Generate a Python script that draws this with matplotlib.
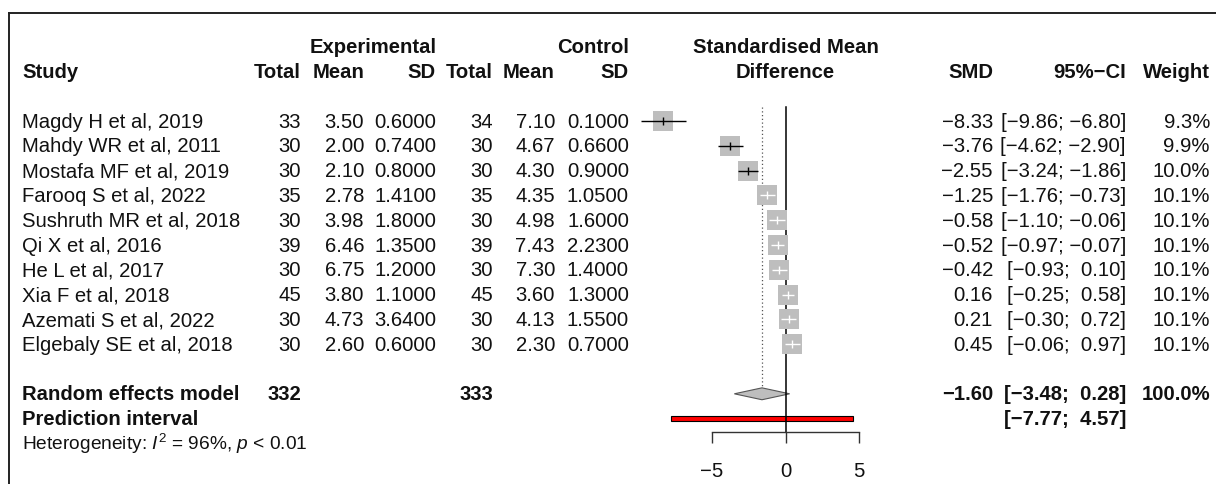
import numpy as np
import matplotlib
matplotlib.use("Agg")
import matplotlib.pyplot as plt
from matplotlib import transforms
from matplotlib.lines import Line2D

# ---- data ----
studies = ["Magdy H et al, 2019", "Mahdy WR et al, 2011", "Mostafa MF et al, 2019",
           "Farooq S et al, 2022", "Sushruth MR et al, 2018", "Qi X et al, 2016",
           "He L et al, 2017", "Xia F et al, 2018", "Azemati S et al, 2022",
           "Elgebaly SE et al, 2018"]
exp_n = [33, 30, 30, 35, 30, 39, 30, 45, 30, 30]
exp_mean = [3.50, 2.00, 2.10, 2.78, 3.98, 6.46, 6.75, 3.80, 4.73, 2.60]
exp_sd = [0.60, 0.74, 0.80, 1.41, 1.80, 1.35, 1.20, 1.10, 3.64, 0.60]
ctl_n = [34, 30, 30, 35, 30, 39, 30, 45, 30, 30]
ctl_mean = [7.10, 4.67, 4.30, 4.35, 4.98, 7.43, 7.30, 3.60, 4.13, 2.30]
ctl_sd = [0.10, 0.66, 0.90, 1.05, 1.60, 2.23, 1.40, 1.30, 1.55, 0.70]
smd = [-8.33, -3.76, -2.55, -1.25, -0.58, -0.52, -0.42, 0.16, 0.21, 0.45]
ci_lo = [-9.86, -4.62, -3.24, -1.76, -1.10, -0.97, -0.93, -0.25, -0.30, -0.06]
ci_hi = [-6.80, -2.90, -1.86, -0.73, -0.06, -0.07, 0.10, 0.58, 0.72, 0.97]
weight = [9.3, 9.9, 10.0, 10.1, 10.1, 10.1, 10.1, 10.1, 10.1, 10.1]

re_est, re_lo, re_hi = -1.60, -3.48, 0.28
pi_lo, pi_hi = -7.77, 4.57
x_ticks = [-5, 0, 5]
het_text = r"Heterogeneity: $I^2$ = 96%, $p$ < 0.01"

# ---- layout (pixels of the 1216x484 canvas) ----
W, H = 1216, 484
FS = 14.6
X0_PX, PX_PER_UNIT = 785.5, 14.7      # x pixel of SMD 0, pixels per SMD unit
ROW0_PX, ROW_PX = 121.0, 24.8         # y pixel of first study row, row spacing
XMIN, XMAX = -10.5, 6.0
AX_TOP, AX_BOT = 100, 432
BOX_PX = 20.0
BASE = 0.27                           # baseline offset of text below row centre

plt.rcParams["font.family"] = ["Liberation Sans", "DejaVu Sans"]
plt.rcParams["mathtext.fontset"] = "custom"
plt.rcParams["mathtext.rm"] = "Liberation Sans"
plt.rcParams["mathtext.it"] = "Liberation Sans:italic"

fig = plt.figure(figsize=(W / 100, H / 100), dpi=100)
fig.patch.set_facecolor("white")

left_px = X0_PX + XMIN * PX_PER_UNIT
right_px = X0_PX + XMAX * PX_PER_UNIT
ax = fig.add_axes([left_px / W, 1 - AX_BOT / H, (right_px - left_px) / W, (AX_BOT - AX_TOP) / H])
ax.set_xlim(XMIN, XMAX)
ax.set_ylim((AX_BOT - ROW0_PX) / ROW_PX, (AX_TOP - ROW0_PX) / ROW_PX)
ax.patch.set_alpha(0)
for side in ["top", "right", "left"]:
    ax.spines[side].set_visible(False)
ax.spines["bottom"].set_bounds(x_ticks[0], x_ticks[-1])
ax.spines["bottom"].set_color("#333333")
ax.spines["bottom"].set_linewidth(1.0)
ax.set_yticks([])
ax.set_xticks(x_ticks)
ax.tick_params(axis="x", direction="out", length=7.9, width=1.0, color="#333333",
               pad=13.5, labelsize=FS, labelcolor="#111111")

n = len(studies)
rows = np.arange(n)
re_row, pi_row, het_row = n + 1, n + 2, n + 3
y_top = -0.56

# reference line and random-effects estimate line
ax.plot([0, 0], [y_top, ax.get_ylim()[0]], color="black", lw=1.1, zorder=2.5, clip_on=False)
ax.plot([re_est, re_est], [y_top, re_row - 0.24], color="#555555", lw=0.9,
        ls=(0, (1, 2)), zorder=1)

# study squares
w = np.array(weight)
ax.scatter(smd, rows, s=(BOX_PX * 0.72) ** 2 * w / w.max(), marker="s",
           color="#BEBEBE", linewidths=0, zorder=3)
half = BOX_PX * np.sqrt(w / w.max()) / 2 / PX_PER_UNIT
est, lo, hi = np.array(smd), np.array(ci_lo), np.array(ci_hi)
inside = (lo >= est - half) & (hi <= est + half)
cols = ["white" if i else "black" for i in inside]
ax.hlines(rows, lo, hi, colors=cols, lw=1.0, zorder=4)
ax.vlines(est, rows - 0.16, rows + 0.16, colors=cols, lw=1.0, zorder=4)

# pooled diamond and prediction interval
ax.fill([re_lo, re_est, re_hi, re_est], [re_row, re_row - 0.24, re_row, re_row + 0.24],
        facecolor="#BEBEBE", edgecolor="#555555", lw=0.8, zorder=2)
ax.fill([pi_lo, pi_hi, pi_hi, pi_lo], [pi_row - 0.11, pi_row - 0.11, pi_row + 0.11, pi_row + 0.11],
        facecolor="red", edgecolor="black", lw=0.8, zorder=2)

# ---- text columns ----
trans = transforms.blended_transform_factory(fig.transFigure, ax.transData)


def put(xpx, row, s, ha="right", bold=False, size=FS):
    ax.text(xpx / W, row + BASE, s, transform=trans, ha=ha, va="baseline",
            fontsize=size, fontweight="bold" if bold else "normal", color="#111111")


def fmt(v, spec):
    return format(v, spec).replace("-", "\u2212")


def ci(a, b):
    return "[" + fmt(a, "5.2f") + "; " + fmt(b, "5.2f") + "]"


# headers
put(437, -3, "Experimental", bold=True)
put(629, -3, "Control", bold=True)
put(X0_PX, -3, "Standardised Mean", ha="center", bold=True)
put(22, -2, "Study", ha="left", bold=True)
for xpx, lab in [(301, "Total"), (364, "Mean"), (436, "SD"), (493, "Total"),
                 (555, "Mean"), (629, "SD"), (993, "SMD"), (1126, "95%\u2212CI"),
                 (1210, "Weight")]:
    put(xpx, -2, lab, bold=True)
put(X0_PX, -2, "Difference", ha="center", bold=True)

# study rows
for i in range(n):
    put(22, i, studies[i], ha="left")
    put(301, i, str(exp_n[i]))
    put(364, i, f"{exp_mean[i]:.2f}")
    put(436, i, f"{exp_sd[i]:.4f}")
    put(493, i, str(ctl_n[i]))
    put(555, i, f"{ctl_mean[i]:.2f}")
    put(629, i, f"{ctl_sd[i]:.4f}")
    put(993, i, fmt(smd[i], ".2f"))
    put(1126, i, ci(ci_lo[i], ci_hi[i]))
    put(1210, i, f"{weight[i]:.1f}%")

# pooled rows
put(22, re_row, "Random effects model", ha="left", bold=True)
put(301, re_row, str(sum(exp_n)), bold=True)
put(493, re_row, str(sum(ctl_n)), bold=True)
put(993, re_row, fmt(re_est, ".2f"), bold=True)
put(1126, re_row, ci(re_lo, re_hi), bold=True)
put(1210, re_row, "100.0%", bold=True)
put(22, pi_row, "Prediction interval", ha="left", bold=True)
put(1126, pi_row, ci(pi_lo, pi_hi), bold=True)
put(22, het_row, het_text, ha="left", size=13.8)

# frame lines of the screenshot (top and left)
fig.add_artist(Line2D([9 / W, 1], [1 - 13 / H, 1 - 13 / H], transform=fig.transFigure,
                      color="#222222", lw=1.4))
fig.add_artist(Line2D([9 / W, 9 / W], [0, 1 - 13 / H], transform=fig.transFigure,
                      color="#222222", lw=1.4))

fig.savefig("out.png", dpi=100)
